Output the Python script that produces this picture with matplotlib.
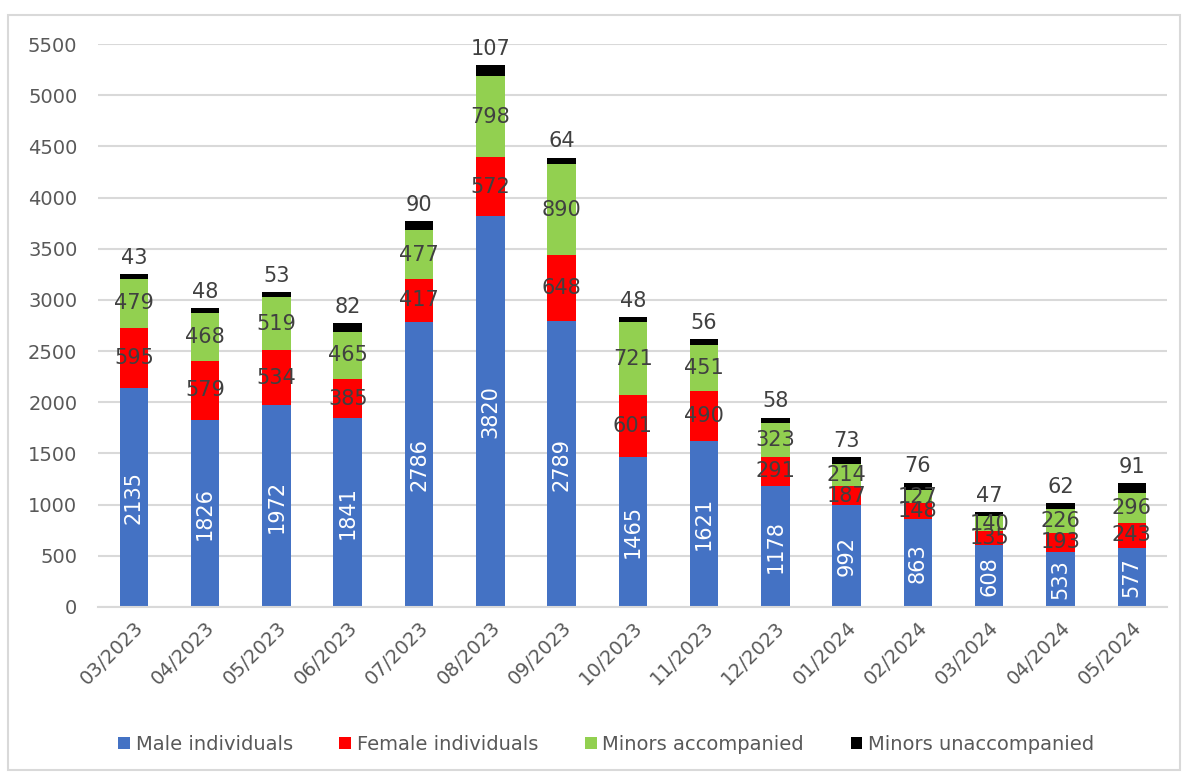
import matplotlib.pyplot as plt
import numpy as np
from matplotlib.patches import Rectangle

# Monthly values
months = ['03/2023', '04/2023', '05/2023', '06/2023', '07/2023', '08/2023', '09/2023',
          '10/2023', '11/2023', '12/2023', '01/2024', '02/2024', '03/2024', '04/2024', '05/2024']
male = [2135, 1826, 1972, 1841, 2786, 3820, 2789, 1465, 1621, 1178, 992, 863, 608, 533, 577]
female = [595, 579, 534, 385, 417, 572, 648, 601, 490, 291, 187, 148, 135, 193, 243]
minors_acc = [479, 468, 519, 465, 477, 798, 890, 721, 451, 323, 214, 127, 140, 226, 296]
minors_unacc = [43, 48, 53, 82, 90, 107, 64, 48, 56, 58, 73, 76, 47, 62, 91]

series = [
    ('Male individuals', male, '#4472C4'),
    ('Female individuals', female, '#FF0000'),
    ('Minors accompanied', minors_acc, '#92D050'),
    ('Minors unaccompanied', minors_unacc, '#000000'),
]

fig = plt.figure(figsize=(11.84, 7.74), dpi=100)
ax = fig.add_axes([0.083, 0.216, 0.903, 0.727])

# outer chart frame
fig.patches.append(Rectangle((8 / 1184, 4 / 774), 1172 / 1184, 755 / 774,
                             transform=fig.transFigure, fill=False,
                             edgecolor='#D9D9D9', linewidth=1.5))

x = np.arange(len(months))
width = 0.40
bottom = np.zeros(len(months))
text_color = '#404040'

for i, (name, vals, color) in enumerate(series):
    vals = np.array(vals)
    ax.bar(x, vals, width, bottom=bottom, color=color, label=name, zorder=2)
    for xi, b, v in zip(x, bottom, vals):
        if i == 0:
            ax.text(xi, b + v / 2, str(v), rotation=90, ha='center', va='center',
                    color='white', fontsize=15, zorder=3)
        elif i == 3:
            ax.text(xi, b + v + 60, str(v), ha='center', va='bottom',
                    color=text_color, fontsize=15, zorder=3, clip_on=False)
        else:
            ax.text(xi, b + v / 2, str(v), ha='center', va='center',
                    color=text_color, fontsize=15, zorder=3)
    bottom = bottom + vals

ax.set_xlim(-0.5, len(months) - 0.5)
ax.set_ylim(0, 5500)
ax.set_yticks(np.arange(0, 5501, 500))
ax.yaxis.grid(True, color='#D9D9D9', linewidth=1.5, zorder=0)
ax.set_axisbelow(True)
ax.set_xticks(x)
ax.set_xticklabels(months, rotation=45, ha='right', rotation_mode='anchor')
ax.tick_params(axis='both', length=0, labelsize=14, labelcolor='#595959')
ax.tick_params(axis='y', pad=15)
ax.tick_params(axis='x', pad=8)
for side in ['top', 'right', 'left']:
    ax.spines[side].set_visible(False)
ax.spines['bottom'].set_color('#D9D9D9')
ax.spines['bottom'].set_linewidth(1.5)

fig.legend(loc='center', bbox_to_anchor=(0.512, 0.038), ncol=4, frameon=False,
           fontsize=14, labelcolor='#595959', handlelength=0.6, handleheight=0.6,
           handletextpad=0.3, columnspacing=2.4)

fig.savefig('out.png', dpi=100)
